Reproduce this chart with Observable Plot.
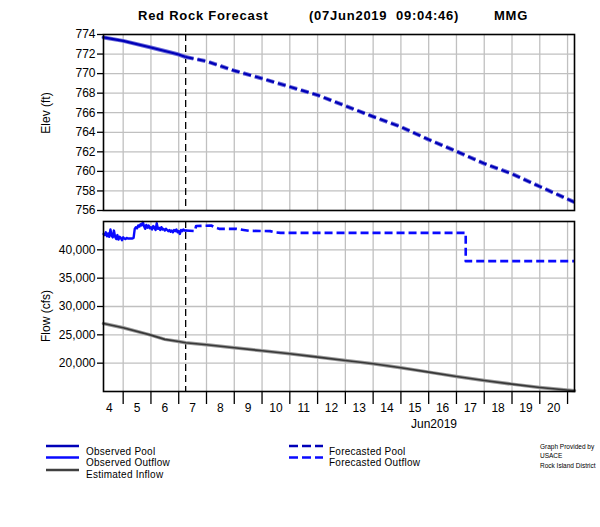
<!DOCTYPE html>
<html><head><meta charset="utf-8">
<script src="https://cdn.jsdelivr.net/npm/d3@7"></script>
<script src="https://cdn.jsdelivr.net/npm/@observablehq/plot@0.6"></script>
<style>
body{margin:0;background:#fff;font-family:"Liberation Sans",Arial,sans-serif;}
#wrap{position:relative;width:600px;height:527px;overflow:hidden;background:#fff;}
.abs{position:absolute;white-space:nowrap;color:#000;line-height:1;}
.ttl{font-weight:bold;font-size:13px;letter-spacing:0.75px;}
.leg{font-size:10px;letter-spacing:0.25px;transform:translateY(-50%);}
.cred{font-size:6.5px;transform:translateY(-50%);}
.rot{font-size:12px;transform:translate(-50%,-50%) rotate(-90deg);}
svg.pl{position:absolute;left:0;}
</style></head><body><div id="wrap"></div>
<script>
// ---- data (hours after 04Jun2019 00:00) ----
const obsPoolHours = [7, 24, 48, 72, 78];
const obsPoolElev  = [773.7, 773.35, 772.67, 771.95, 771.7];
const fcPoolHours  = [78, 96, 120, 144, 168, 192, 216, 240, 264, 288, 312, 336, 360, 384, 414];
const fcPoolElev   = [771.7, 771.26, 770.3, 769.5, 768.65, 767.8, 766.7, 765.6, 764.55, 763.25, 762.05, 760.8, 759.75, 758.45, 756.85];
const obsOutHours  = [7,8,9,10,11,12,13,14,15,16,17,18,19,20,21,22,23,24,25,26,27,28,30,32,33,34,35,36,37,38,39,40,41,42,43,44,45,46,47,48,49,50,51,52,53,54,55,56,57,58,59,60,61,62,63,64,65,66,67,68,69,70,71,72,73,74,75,76,77,78];
const obsOutFlow   = [42800,42600,43100,42400,42900,42300,43600,42500,42200,43400,42300,41900,42600,41800,42300,42100,41700,42200,42000,41900,42100,42000,42000,42000,42100,43700,44000,43800,44300,44100,44500,44300,44900,44200,43700,44400,43900,44300,43800,44000,43600,44200,43900,43500,44700,43700,43900,43500,44000,43600,43700,43400,43700,43500,43300,43500,43200,43400,43100,43500,43300,43600,43100,43300,42800,43500,43300,43600,43400,43400];
const fcOutHours   = [78, 86, 87, 100, 103, 107, 122, 128, 133, 151, 155, 160, 320, 320, 414];
const fcOutFlow    = [43400, 43300, 44200, 44300, 44000, 43700, 43700, 43500, 43350, 43300, 43100, 43000, 43000, 38000, 38000];
const inflowHours  = [7, 24, 48, 60, 72, 78, 96, 120, 144, 168, 192, 216, 240, 264, 288, 312, 336, 360, 384, 414];
const inflowFlow   = [27000, 26250, 24950, 24200, 23830, 23600, 23250, 22720, 22190, 21660, 21070, 20480, 19900, 19190, 18420, 17660, 16950, 16300, 15720, 15130];
const elevTicks = [756, 758, 760, 762, 764, 766, 768, 770, 772, 774];
const flowTicks = [20000, 25000, 30000, 35000, 40000];
const dayLabels = [4,5,6,7,8,9,10,11,12,13,14,15,16,17,18,19,20];
const forecastHour = 78;

const base = Date.UTC(2019, 5, 4);
const hd = h => new Date(base + h * 3600e3);
const series = (hs, vs) => hs.map((h, i) => ({date: hd(h), v: vs[i]}));
const obsPool = series(obsPoolHours, obsPoolElev);
const fcPool = series(fcPoolHours, fcPoolElev);
const obsOut = series(obsOutHours, obsOutFlow);
const fcOut = series(fcOutHours, fcOutFlow);
const inflow = series(inflowHours, inflowFlow);
const dayTicks = d3.range(5, 22).map(d => new Date(Date.UTC(2019, 5, d)));
const noonTicks = dayLabels.map(d => new Date(Date.UTC(2019, 5, d, 12)));
const fTime = hd(forecastHour);

const FONT = '"Liberation Sans", Arial, sans-serif';
const GRID = "#c0c0c0";
const POOL = "#0000b8", POOLH = "#6a6ad8";
const OUT = "#0a0aff";
const xDom = [hd(7), hd(414)];
const DASH = "8,4";

const wrap = document.getElementById("wrap");

const topPlot = Plot.plot({
  width: 600, height: 190, marginLeft: 103, marginRight: 26, marginTop: 10, marginBottom: 4,
  style: {fontFamily: FONT, fontSize: "12px", color: "black", background: "transparent", overflow: "visible"},
  x: {type: "utc", domain: xDom, axis: null},
  y: {domain: [756, 774], axis: null},
  marks: [
    Plot.gridX(dayTicks, {stroke: GRID, strokeOpacity: 1, strokeWidth: 1.3}),
    Plot.gridY(elevTicks.slice(1, -1), {stroke: GRID, strokeOpacity: 1, strokeWidth: 1.3}),
    Plot.axisY({ticks: elevTicks, tickSize: 6, tickPadding: 2, tickFormat: d => d, label: null, strokeWidth: 1.3}),
    Plot.ruleX([fTime], {stroke: "black", strokeDasharray: "7,4", strokeWidth: 1.3}),
    Plot.line(obsPool, {x: "date", y: "v", stroke: POOLH, strokeWidth: 4}),
    Plot.line(obsPool, {x: "date", y: "v", stroke: POOL, strokeWidth: 2.2}),
    Plot.line(fcPool, {x: "date", y: "v", stroke: POOLH, strokeWidth: 4, strokeDasharray: DASH, strokeLinecap: "butt"}),
    Plot.line(fcPool, {x: "date", y: "v", stroke: POOL, strokeWidth: 2.2, strokeDasharray: DASH, strokeLinecap: "butt"}),
    Plot.frame({stroke: "black", strokeWidth: 1.6})
  ]
});
topPlot.classList.add("pl");
topPlot.style.top = "24px";
wrap.appendChild(topPlot);

const botPlot = Plot.plot({
  width: 600, height: 230, marginLeft: 103, marginRight: 26, marginTop: 10, marginBottom: 50,
  style: {fontFamily: FONT, fontSize: "12px", color: "black", background: "transparent", overflow: "visible"},
  x: {type: "utc", domain: xDom, axis: null},
  y: {domain: [15000, 45000], axis: null},
  marks: [
    Plot.gridX(dayTicks, {stroke: GRID, strokeOpacity: 1, strokeWidth: 1.3}),
    Plot.gridY(flowTicks, {stroke: GRID, strokeOpacity: 1, strokeWidth: 1.3}),
    Plot.axisY({ticks: flowTicks, tickSize: 6, tickPadding: 2, tickFormat: d3.format(","), label: null, strokeWidth: 1.3}),
    Plot.axisX({ticks: dayTicks, tickSize: 13, tickFormat: () => "", label: null, strokeWidth: 1.3}),
    Plot.axisX({ticks: noonTicks, tickSize: 0, tickPadding: 12, tickFormat: d => d.getUTCDate(), label: null}),
    Plot.ruleX([fTime], {stroke: "black", strokeDasharray: "7,4", strokeWidth: 1.3}),
    Plot.line(inflow, {x: "date", y: "v", stroke: "#9a9a9a", strokeWidth: 3.5}),
    Plot.line(inflow, {x: "date", y: "v", stroke: "#383838", strokeWidth: 1.6}),
    Plot.line(obsOut, {x: "date", y: "v", stroke: OUT, strokeWidth: 2.4}),
    Plot.line(fcOut, {x: "date", y: "v", stroke: OUT, strokeWidth: 2.6, strokeDasharray: DASH, strokeLinecap: "butt"}),
    Plot.frame({stroke: "black", strokeWidth: 1.6})
  ]
});
botPlot.classList.add("pl");
botPlot.style.top = "211px";
wrap.appendChild(botPlot);

function addText(txt, left, top, cls, extra) {
  const s = document.createElement("div");
  s.className = "abs " + cls;
  s.textContent = txt;
  s.style.left = left + "px";
  s.style.top = top + "px";
  if (extra) Object.assign(s.style, extra);
  wrap.appendChild(s);
  return s;
}
addText("Red Rock Forecast", 138, 9, "ttl");
addText("(07Jun2019  09:04:46)", 309, 9, "ttl", {whiteSpace: "pre"});
addText("MMG", 494, 9, "ttl");
addText("Elev (ft)", 46, 113, "rot");
addText("Flow (cfs)", 46, 316, "rot");
addText("Jun2019", 434, 424, "", {fontSize: "12px", transform: "translate(-50%,-50%)"});

// legend
const legSvg = d3.create("svg").attr("width", 600).attr("height", 60)
  .style("position", "absolute").style("left", "0px").style("top", "435px");
const legLines = [
  {x1: 46, x2: 79, y: 11, c: POOL, dash: null},
  {x1: 46, x2: 79, y: 22.5, c: OUT, dash: null},
  {x1: 46, x2: 79, y: 35, c: "#404040", dash: null},
  {x1: 289, x2: 323, y: 11, c: POOL, dash: "9,4"},
  {x1: 289, x2: 323, y: 22.5, c: OUT, dash: "9,4"}
];
for (const l of legLines) {
  legSvg.append("line").attr("x1", l.x1).attr("x2", l.x2).attr("y1", l.y).attr("y2", l.y)
    .attr("stroke", l.c).attr("stroke-width", 2.6).attr("stroke-dasharray", l.dash);
}
wrap.appendChild(legSvg.node());
addText("Observed Pool", 86, 451.5, "leg");
addText("Observed Outflow", 86, 463, "leg");
addText("Estimated Inflow", 86, 475, "leg");
addText("Forecasted Pool", 329, 451.5, "leg");
addText("Forecasted Outflow", 329, 463, "leg");
addText("Graph Provided by", 540, 446.5, "cred");
addText("USACE", 540, 456, "cred");
addText("Rock Island District", 540, 465.5, "cred");
</script></body></html>
